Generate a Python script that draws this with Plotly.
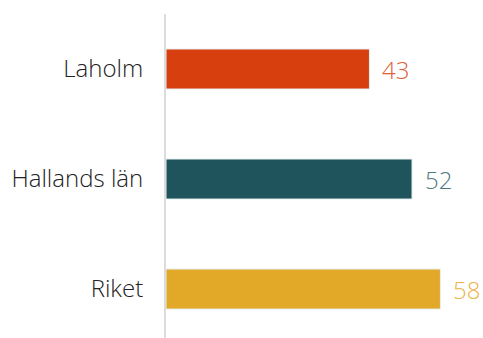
import plotly.graph_objects as go

# Data
categories = ["Laholm", "Hallands län", "Riket"]
values = [43, 52, 58]
bar_colors = ["#D73F0F", "#1F545C", "#E2A828"]
label_colors = ["#E0603A", "#4C787E", "#ECB244"]

FONT = "Open Sans"
SIZE = 24

fig = go.Figure()
fig.add_trace(
    go.Bar(
        y=categories, x=values,
        orientation="h",
        width=0.364,
        marker=dict(color=bar_colors, line=dict(color="#E6EFEF", width=1)),
        hoverinfo="skip",
    )
)

# Value labels to the right of each bar
for cat, val, col in zip(categories, values, label_colors):
    fig.add_annotation(
        x=val, y=cat, text=str(val),
        xanchor="left", xshift=11, showarrow=False,
        font=dict(family=FONT, size=SIZE, color=col, weight=300),
    )

fig.update_layout(
    width=483, height=338,
    margin=dict(l=166, r=0, t=14, b=0),
    plot_bgcolor="white", paper_bgcolor="white",
    showlegend=False,
    font=dict(family=FONT, size=SIZE, color="#222222", weight=300),
    xaxis=dict(range=[0, 67.0], visible=False, fixedrange=True),
    yaxis=dict(
        type="category",
        range=[2.445, -0.5],
        showline=True, linecolor="#DCDCDC", linewidth=2,
        showgrid=False, zeroline=False, ticks="",
        ticklabelstandoff=16,
        tickfont=dict(family=FONT, size=SIZE, color="#222222", weight=300),
    ),
)

# drop the default page margin so the figure fills the window exactly
fig.write_html(
    "out.html",
    config={"displayModeBar": False},
    post_script="document.body.style.margin='0';document.body.style.overflow='hidden';",
)
